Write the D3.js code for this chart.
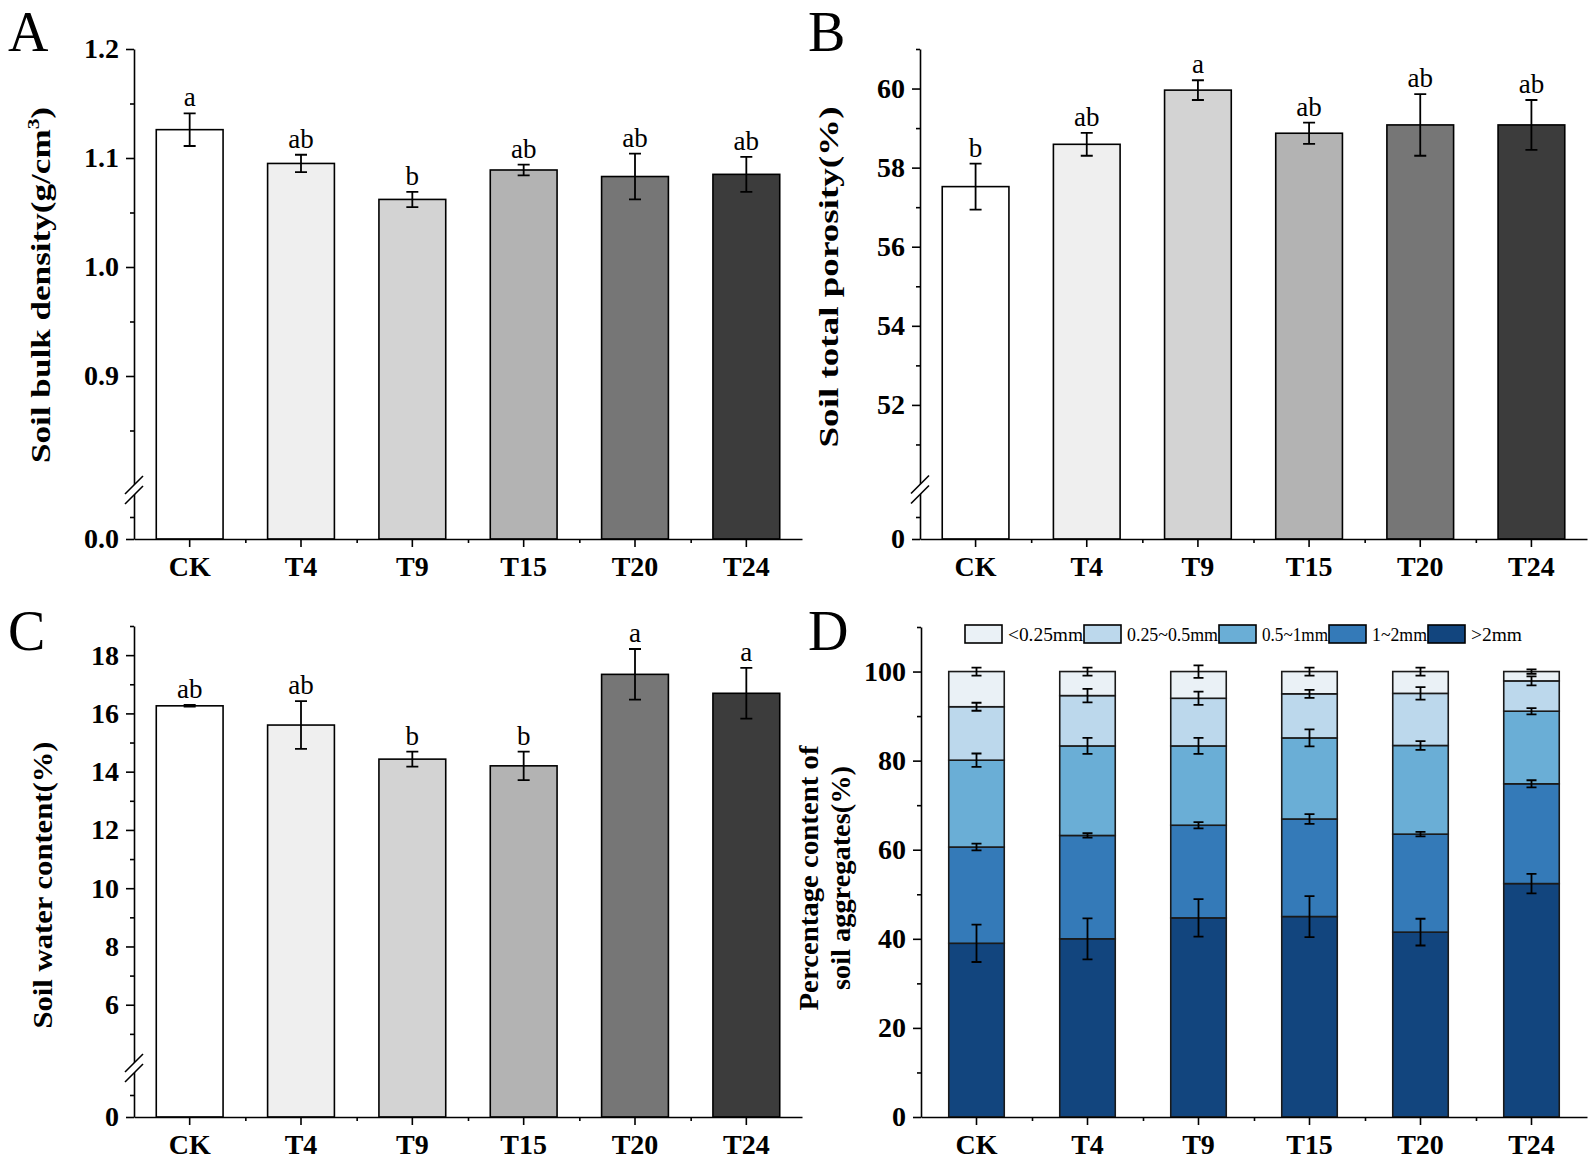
<!DOCTYPE html>
<html>
<head>
<meta charset="utf-8">
<script src="https://cdn.jsdelivr.net/npm/d3@7"></script>
<style>
  html, body { margin: 0; padding: 0; background: #ffffff; }
  svg { display: block; }
  text { font-family: "Liberation Serif", "Times New Roman", serif; fill: #000; }
</style>
</head>
<body>
<div id="chart"></div>
<script>
// categories shared by all four panels
const categories = ["CK", "T4", "T9", "T15", "T20", "T24"];
const barFills = ["#ffffff", "#efefef", "#d3d3d3", "#b3b3b3", "#767676", "#3c3c3c"];

// A: soil bulk density
const bulkDensity = [1.126, 1.095, 1.062, 1.089, 1.083, 1.085];
const bulkDensityErr = [0.015, 0.008, 0.007, 0.005, 0.021, 0.016];
const bulkDensityLetters = ["a", "ab", "b", "ab", "ab", "ab"];

// B: soil total porosity
const porosity = [57.52, 58.59, 59.96, 58.87, 59.08, 59.08];
const porosityErr = [0.58, 0.29, 0.25, 0.27, 0.78, 0.63];
const porosityLetters = ["b", "ab", "a", "ab", "ab", "ab"];

// C: soil water content
const waterContent = [16.26, 15.6, 14.43, 14.2, 17.34, 16.69];
const waterContentErr = [0.03, 0.82, 0.26, 0.49, 0.87, 0.87];
const waterContentLetters = ["ab", "ab", "b", "b", "a", "a"];

// D: aggregate size classes, bottom of stack first
const aggregateClasses = [">2mm", "1~2mm", "0.5~1mm", "0.25~0.5mm", "<0.25mm"];
const aggregateColors = ["#12457e", "#347ab8", "#6aaed6", "#bcd8ec", "#eaf1f6"];
const aggregateShare = [
  [39.0, 21.6, 19.5, 12.0, 7.9],
  [40.0, 23.2, 20.1, 11.3, 5.4],
  [44.7, 20.8, 17.8, 10.7, 6.0],
  [45.0, 21.9, 18.2, 9.9, 5.0],
  [41.5, 22.0, 19.9, 11.7, 4.9],
  [52.4, 22.4, 16.3, 6.8, 2.1]
];
const aggregateErr = [
  [4.2, 0.75, 1.5, 0.9, 0.9],
  [4.6, 0.5, 1.8, 1.5, 0.9],
  [4.2, 0.7, 1.8, 1.5, 1.4],
  [4.6, 1.1, 1.9, 0.9, 0.9],
  [3.0, 0.5, 1.0, 1.4, 0.9],
  [2.2, 0.8, 0.7, 1.0, 0.5]
];

const WIDTH = 1595;
const HEIGHT = 1161;
const TICK_FONT = 28;
// legend label widths in the reference (labels are drawn condensed)
const LEGEND_TEXT_WIDTH = { "<0.25mm": 75, "0.25~0.5mm": 91, "0.5~1mm": 66, "1~2mm": 55, ">2mm": 51 };

const svg = d3.select("#chart").append("svg")
  .attr("width", WIDTH)
  .attr("height", HEIGHT)
  .attr("viewBox", [0, 0, WIDTH, HEIGHT]);

/**
 * Builds the band scale used for the categories of one panel.
 */
function makeX(panel, innerPad) {
  return d3.scaleBand()
    .domain(categories)
    .range([panel.left, panel.right])
    .paddingInner(innerPad)
    .paddingOuter(innerPad / 2);
}

/**
 * Draws bottom axis: labelled ticks at bar centres, short ticks between bars.
 */
function drawXAxis(g, panel, x) {
  g.append("g")
    .attr("transform", `translate(0,${panel.bottom})`)
    .call(d3.axisBottom(x).tickSize(8).tickSizeOuter(0).tickPadding(9))
    .call((a) => a.selectAll("text")
      .attr("font-size", TICK_FONT)
      .attr("font-weight", "bold")
      .attr("font-family", "Liberation Serif"));
  const between = d3.scaleLinear().domain([0, categories.length]).range([panel.left, panel.right]);
  g.append("g")
    .attr("transform", `translate(0,${panel.bottom})`)
    .call(d3.axisBottom(between).tickValues(d3.range(1, categories.length)).tickSize(4).tickFormat(""))
    .call((a) => a.select(".domain").remove());
}

/**
 * Draws left axis with major and minor ticks.
 */
function drawYAxis(g, panel, y, major, minor, fmt) {
  g.append("g")
    .attr("transform", `translate(${panel.left},0)`)
    .call(d3.axisLeft(y).tickValues(major).tickFormat(fmt).tickSize(8).tickSizeOuter(0).tickPadding(7))
    .call((a) => a.selectAll("text")
      .attr("font-size", TICK_FONT)
      .attr("font-weight", "bold")
      .attr("font-family", "Liberation Serif"));
  g.append("g")
    .attr("transform", `translate(${panel.left},0)`)
    .call(d3.axisLeft(y).tickValues(minor).tickSize(4).tickFormat(""))
    .call((a) => a.select(".domain").remove());
  g.selectAll(".domain, .tick line").attr("stroke", "#000").attr("stroke-width", 1.6);
}

/**
 * Draws the "//" axis-break marker on the y axis.
 */
function drawBreak(g, panel, cy) {
  const x0 = panel.left;
  g.append("path")
    .attr("d", `M${x0 - 9},${cy + 4} L${x0 + 9},${cy - 14} L${x0 + 9},${cy - 4} L${x0 - 9},${cy + 14} Z`)
    .attr("fill", "#fff");
  [-5, 5].forEach((d) => {
    g.append("line")
      .attr("x1", x0 - 9).attr("y1", cy + d + 9)
      .attr("x2", x0 + 9).attr("y2", cy + d - 9)
      .attr("stroke", "#000").attr("stroke-width", 1.6);
  });
}

/**
 * Draws a vertical error bar with caps.
 */
function drawErrorBar(g, cx, yTop, yBottom, half) {
  g.append("path")
    .attr("d", `M${cx - half},${yTop} H${cx + half} M${cx},${yTop} V${yBottom} M${cx - half},${yBottom} H${cx + half}`)
    .attr("fill", "none")
    .attr("stroke", "#000")
    .attr("stroke-width", 1.8);
}

function drawPanelLetter(letter, x, y) {
  svg.append("text").attr("x", x).attr("y", y)
    .attr("font-size", 56)
    .text(letter);
}

/**
 * Rotated y-axis title; each line may carry a superscript and a target length.
 */
function drawYTitle(lines, x, cy, lineGap) {
  const t = svg.append("text")
    .attr("transform", `translate(${x},${cy}) rotate(-90)`)
    .attr("text-anchor", "middle")
    .attr("font-size", 28)
    .attr("font-weight", "bold");
  lines.forEach((line, i) => {
    const ts = t.append("tspan").attr("x", 0).attr("y", (i - (lines.length - 1)) * lineGap);
    if (line.sup) {
      ts.append("tspan").text(line.text);
      ts.append("tspan").attr("font-size", 17).attr("dy", -11).text(line.sup);
      ts.append("tspan").attr("dy", 11).text(line.after);
    } else {
      ts.text(line.text);
    }
    if (line.length) {
      ts.attr("textLength", line.length).attr("lengthAdjust", "spacingAndGlyphs");
    }
  });
}

/**
 * Renders one grey bar panel with error bars and significance letters.
 */
function renderBarPanel(cfg) {
  const g = svg.append("g");
  const x = makeX(cfg.panel, 0.4);
  const y = d3.scaleLinear().domain(cfg.domain).range(cfg.range);
  g.selectAll("rect.bar")
    .data(categories)
    .join("rect")
    .attr("class", "bar")
    .attr("x", (c) => x(c))
    .attr("width", x.bandwidth())
    .attr("y", (c, i) => y(cfg.values[i]))
    .attr("height", (c, i) => y(0) - y(cfg.values[i]))
    .attr("fill", (c, i) => barFills[i])
    .attr("stroke", "#000")
    .attr("stroke-width", 1.6);
  categories.forEach((c, i) => {
    const cx = x(c) + x.bandwidth() / 2;
    const top = y(cfg.values[i] + cfg.errors[i]);
    drawErrorBar(g, cx, top, y(cfg.values[i] - cfg.errors[i]), 6);
    g.append("text")
      .attr("x", cx)
      .attr("y", top - 7)
      .attr("text-anchor", "middle")
      .attr("font-size", 27)
      .text(cfg.letters[i]);
  });
  drawXAxis(g, cfg.panel, x);
  drawYAxis(g, cfg.panel, y, cfg.major, cfg.minor, cfg.format);
  drawBreak(g, cfg.panel, (cfg.range[1] + cfg.range[2]) / 2);
}

/**
 * Renders the stacked aggregate panel.
 */
function renderStackPanel(panel) {
  const g = svg.append("g");
  const x = makeX(panel, 0.5);
  const y = d3.scaleLinear().domain([0, 110]).range([panel.bottom, panel.top]);
  const rows = categories.map((c, i) => {
    const row = { cat: c };
    aggregateClasses.forEach((k, j) => { row[k] = aggregateShare[i][j]; });
    return row;
  });
  const series = d3.stack().keys(aggregateClasses)(rows);
  series.forEach((s, j) => {
    g.append("g")
      .selectAll("rect")
      .data(s)
      .join("rect")
      .attr("x", (d) => x(d.data.cat))
      .attr("width", x.bandwidth())
      .attr("y", (d) => y(d[1]))
      .attr("height", (d) => y(d[0]) - y(d[1]))
      .attr("fill", aggregateColors[j])
      .attr("stroke", "#1a1a1a")
      .attr("stroke-width", 1.6);
  });
  series.forEach((s, j) => {
    s.forEach((d, i) => {
      const cx = x(d.data.cat) + x.bandwidth() / 2;
      const e = aggregateErr[i][j];
      drawErrorBar(g, cx, y(d[1] + e), y(d[1] - e), 5);
    });
  });
  drawXAxis(g, panel, x);
  drawYAxis(g, panel, y, d3.range(0, 101, 20), d3.range(10, 111, 20), d3.format("d"));

  // legend, listed from the top of the stack downwards
  const legend = g.append("g");
  let cursor = 965;
  aggregateClasses.slice().reverse().forEach((k) => {
    const j = aggregateClasses.indexOf(k);
    legend.append("rect")
      .attr("x", cursor).attr("y", 625)
      .attr("width", 37).attr("height", 18)
      .attr("fill", aggregateColors[j])
      .attr("stroke", "#000").attr("stroke-width", 1.6);
    legend.append("text")
      .attr("x", cursor + 43).attr("y", 641)
      .attr("font-size", 18)
      .attr("textLength", LEGEND_TEXT_WIDTH[k])
      .attr("lengthAdjust", "spacingAndGlyphs")
      .text(k);
    cursor += 43 + LEGEND_TEXT_WIDTH[k] + 1;
  });
}

const panelA = { left: 134, right: 802, top: 49, bottom: 539 };
const panelB = { left: 920, right: 1587, top: 49, bottom: 539 };
const panelC = { left: 134, right: 802, top: 626, bottom: 1117 };
const panelD = { left: 921, right: 1587, top: 627, bottom: 1117 };

renderBarPanel({
  panel: panelA,
  domain: [0, 0.1, 0.8, 1.2],
  range: [539, 495, 485, 49],
  values: bulkDensity,
  errors: bulkDensityErr,
  letters: bulkDensityLetters,
  major: [0, 0.9, 1.0, 1.1, 1.2],
  minor: [0.05, 0.85, 0.95, 1.05, 1.15],
  format: d3.format(".1f")
});

renderBarPanel({
  panel: panelB,
  domain: [0, 2, 50, 61],
  range: [539, 495, 484, 49],
  values: porosity,
  errors: porosityErr,
  letters: porosityLetters,
  major: [0, 52, 54, 56, 58, 60],
  minor: [1, 51, 53, 55, 57, 59, 61],
  format: d3.format("d")
});

renderBarPanel({
  panel: panelC,
  domain: [0, 2, 4, 19],
  range: [1117, 1073, 1063, 626],
  values: waterContent,
  errors: waterContentErr,
  letters: waterContentLetters,
  major: [0, 6, 8, 10, 12, 14, 16, 18],
  minor: [1, 5, 7, 9, 11, 13, 15, 17, 19],
  format: d3.format("d")
});

renderStackPanel(panelD);

drawPanelLetter("A", 8, 51);
drawPanelLetter("B", 808, 51);
drawPanelLetter("C", 8, 650);
drawPanelLetter("D", 808, 650);

drawYTitle([{ text: "Soil bulk density(g/cm", sup: "3", after: ")", length: 356 }], 50, 285, 0);
drawYTitle([{ text: "Soil total porosity(%)", length: 341 }], 838, 277, 0);
drawYTitle([{ text: "Soil water content(%)", length: 287 }], 52, 885, 0);
drawYTitle([{ text: "Percentage content of", length: 265 }, { text: "soil aggregates(%)", length: 224 }], 850, 878, 32);
</script>
</body>
</html>
